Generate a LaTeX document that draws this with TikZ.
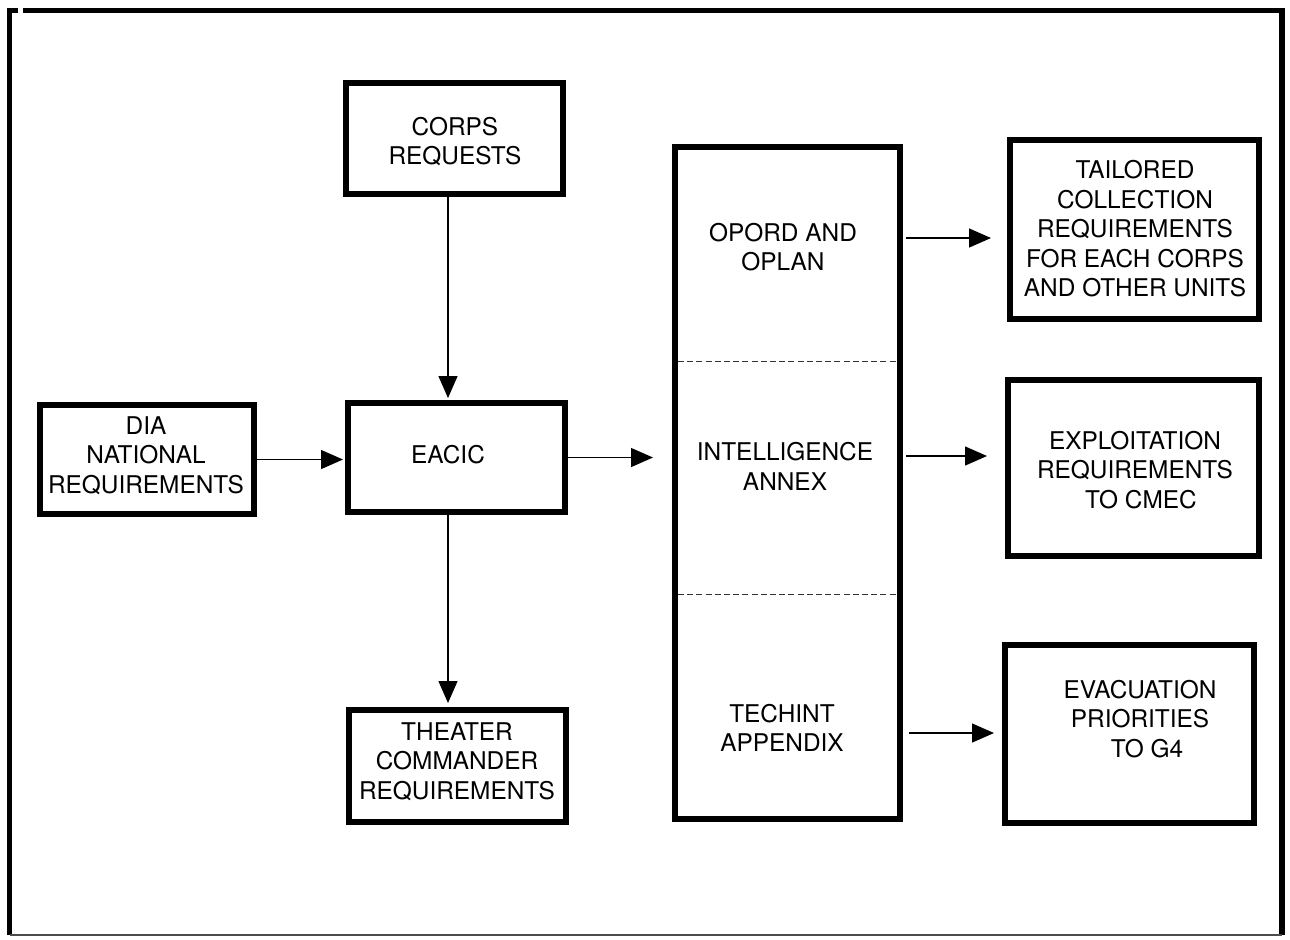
\documentclass[tikz,border=0pt]{standalone}
\usepackage{fontspec}
\setmainfont{TeX Gyre Heros}
\usetikzlibrary{arrows.meta}
\begin{document}
\begin{tikzpicture}[x=0.5pt,y=-0.5pt,
  box/.style={draw, line width=3pt, inner sep=0pt},
  lbl/.style={align=center, inner sep=0pt,
    font=\fontsize{12.2pt}{14.75pt}\selectfont},
  arr/.style={line width=0.65pt, -{Triangle[length=11pt,width=9.5pt]}},
  sep/.style={line width=0.5pt, dash pattern=on 3pt off 1.6pt, black!80},
  frame/.style={line width=2.6pt}]
% page extent
\useasboundingbox (0,0) rectangle (1290,939);

% outer frame
\draw[frame] (9.5,935) -- (9.5,10.5) -- (18,10.5);
\draw[frame] (23,10.5) -- (1282,10.5) -- (1282,935);
\draw[line width=1pt, black!70] (9.5,935) -- (1282,935);

% boxes
\node[box, minimum width=108.5pt, minimum height=55.5pt] (corps)   at (454.5,138.5) {};
\node[box, minimum width=107pt,   minimum height=54.5pt] (dia)     at (147,459.5) {};
\node[box, minimum width=108.5pt, minimum height=54.5pt] (eacic)   at (456.5,457.5) {};
\node[box, minimum width=108.5pt, minimum height=56pt]   (theater) at (457.5,766) {};
\node[box, minimum width=112.5pt, minimum height=336pt]  (tall)    at (787.5,483) {};
\node[box, minimum width=124.5pt, minimum height=89.5pt] (tailored) at (1134.5,229.5) {};
\node[box, minimum width=125.5pt, minimum height=88pt]   (exploit) at (1133.5,468) {};
\node[box, minimum width=124.5pt, minimum height=89pt]   (evac)    at (1129.5,734) {};

% section dividers inside the plan box
\coordinate (d1) at (0,361);
\coordinate (d2) at (0,594);
\draw[sep, shorten <=3pt, shorten >=3pt] (tall.west |- d1) -- (tall.east |- d1);
\draw[sep, shorten <=3pt, shorten >=3pt] (tall.west |- d2) -- (tall.east |- d2);

% labels
\node[lbl] (tcorps)   at (455,141.5) {CORPS\\REQUESTS};
\node[lbl] (tdia)     at (146,455.5) {DIA\\NATIONAL\\REQUIREMENTS};
\node[lbl] (teacic)   at (448,455)   {EACIC};
\node[lbl] (ttheater) at (457,761.5) {THEATER\\COMMANDER\\REQUIREMENTS};
\node[lbl] (topord)   at (783,247)   {OPORD AND\\OPLAN};
\node[lbl] (tintel)   at (785,466.5) {INTELLIGENCE\\ANNEX};
\node[lbl] (ttechint) at (782,728)   {TECHINT\\APPENDIX};
\node[lbl] (ttailored) at (1135,229) {TAILORED\\COLLECTION\\REQUIREMENTS\\FOR EACH CORPS\\AND OTHER UNITS};
\node[lbl] (texploit) at (1135,470)  {EXPLOITATION\\REQUIREMENTS\\\hspace*{6pt}TO CMEC};
\node[lbl] (tevac)    at (1140,719)  {EVACUATION\\PRIORITIES\\\hspace*{7pt}TO G4};

% connectors
\draw[arr, shorten >=1pt] ([xshift=-3.25pt]corps.south) -- ([xshift=-4.25pt]eacic.north);
\draw[arr, shorten >=1pt] (dia.east) -- (eacic.west |- dia.east);
\draw[arr, shorten >=9.5pt] (eacic.east) -- (tall.west |- eacic.east);
\draw[arr, shorten >=2pt] ([xshift=-4.25pt]eacic.south) -- ([xshift=-4.75pt]theater.north);
\coordinate (a1) at (0,238);
\coordinate (a2) at (0,456);
\coordinate (a3) at (0,733);
\draw[arr, shorten <=1.5pt, shorten >=8pt] (tall.east |- a1) -- (tailored.west |- a1);
\draw[arr, shorten <=1.5pt, shorten >=9pt] (tall.east |- a2) -- (exploit.west |- a2);
\draw[arr, shorten <=3pt, shorten >=4pt] (tall.east |- a3) -- (evac.west |- a3);
\end{tikzpicture}
\end{document}
